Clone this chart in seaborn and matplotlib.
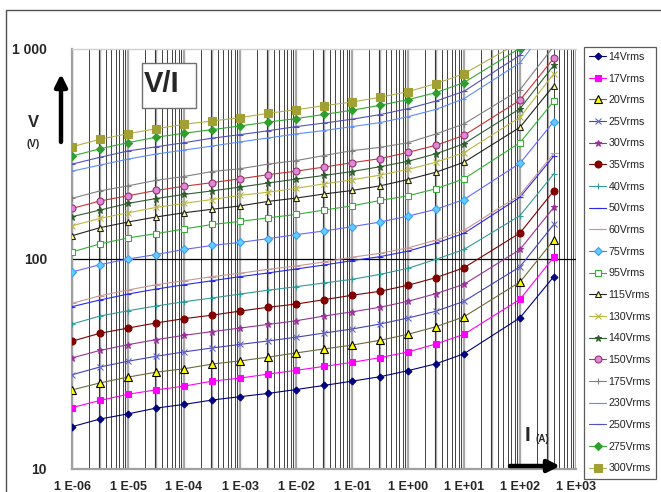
import numpy as np
import pandas as pd
import matplotlib
matplotlib.use('Agg')
import matplotlib.pyplot as plt
import seaborn as sns
from matplotlib.patches import Rectangle
from matplotlib.ticker import LogLocator, NullLocator, NullFormatter

# current values (A) where the curves have points
current = [1e-6, 3.16e-6, 1e-5, 3.16e-5, 1e-4, 3.16e-4, 1e-3, 3.16e-3, 1e-2,
           3.16e-2, 1e-1, 3.16e-1, 1, 3.16, 10, 100, 400]

# voltage (V) per varistor rating
v14 = [15.9, 17.3, 18.3, 19.5, 20.3, 21.3, 22.1, 22.9, 23.9, 25.0, 26.2, 27.5, 29.4, 31.7, 35.4, 52.5, 82.4]
v17 = [19.6, 21.2, 22.7, 23.8, 24.8, 26.2, 27.1, 28.3, 29.5, 30.8, 32.2, 33.9, 36.1, 39.4, 43.8, 64.3, 102]
v20 = [23.8, 25.7, 27.4, 28.9, 30.0, 31.6, 32.7, 34.1, 35.7, 37.3, 38.9, 41.0, 43.8, 47.6, 53.1, 77.7, 123]
v25 = [28.1, 30.6, 32.6, 34.4, 36.1, 37.7, 39.2, 40.7, 42.4, 44.4, 46.4, 49.0, 52.4, 56.4, 62.9, 91.9, 146]
v30 = [33.8, 36.7, 39.1, 41.3, 43.3, 45.1, 46.9, 48.8, 50.8, 53.5, 56.0, 58.9, 62.9, 68.4, 75.8, 111, 176]
v35 = [40.6, 44.3, 46.9, 49.6, 52.0, 54.0, 56.5, 58.9, 61.0, 64.0, 67.2, 70.2, 75.0, 81.5, 90.9, 133, 211]
v40 = [49.0, 53.5, 56.7, 59.7, 62.6, 65.2, 68.1, 71.0, 73.8, 76.9, 80.0, 84.5, 90.3, 99.7, 111, 161, 254]
v50 = [59.3, 63.8, 68.1, 71.9, 75.4, 78.8, 82.4, 85.8, 89.6, 93.6, 98.2, 102.6, 109, 119, 132.5, 197, 309]
v60 = [61.5, 66.8, 71.2, 75.4, 78.8, 82.4, 85.5, 89.3, 92.6, 96.8, 102, 106.4, 113, 123, 137, 202, 318]
v75 = [86.7, 94, 100, 105, 111, 116, 120, 125, 130.6, 136, 142.5, 150, 160, 172.5, 192, 286, 451]
v95 = [108, 118, 126, 132, 139, 146, 151, 157, 163, 171, 179, 190, 200, 216, 241, 358, 564]
v115 = [129, 141, 150, 158.5, 166, 172.5, 179, 188, 195, 204, 212, 223, 239, 259, 289, 424, 670]
v130 = [144, 156, 166, 176, 184, 192, 201, 208, 217, 228, 238, 251, 267, 289, 321, 473, 762]
v140 = [159, 171, 184, 194, 203, 211, 220, 230, 240, 250, 261, 275, 292, 317, 354, 520, 835]
v150 = [174, 189, 200, 212, 222, 231, 241, 252, 262, 274, 287.5, 300.5, 322, 348, 388, 571, 903]
v175 = [194.5, 211, 223, 237, 247, 261, 269, 283, 294, 311, 328, 340, 358, 394, 440, 640, 1030]
v230 = [262, 280, 299, 316, 330, 345, 361, 377, 394, 409, 427, 446, 476, 516, 580, 860, 1400]
v250 = [283, 305, 327, 342, 358, 376, 391, 408, 427, 444, 463, 487, 520, 565, 629, 935, 1500]
v275 = [309, 335, 358, 380, 397, 413, 430, 449, 466, 488, 511, 539, 574, 620, 692, 1010, 1600]
v300 = [342.5, 371.5, 395, 417, 438, 454, 471, 494, 514, 537, 559, 589, 626, 684, 763, 1080, 1700]

series_names = ['14Vrms', '17Vrms', '20Vrms', '25Vrms', '30Vrms', '35Vrms', '40Vrms',
                '50Vrms', '60Vrms', '75Vrms', '95Vrms', '115Vrms', '130Vrms', '140Vrms',
                '150Vrms', '175Vrms', '230Vrms', '250Vrms', '275Vrms', '300Vrms']
series_values = [v14, v17, v20, v25, v30, v35, v40, v50, v60, v75, v95, v115,
                 v130, v140, v150, v175, v230, v250, v275, v300]

x_tick_values = [1e-6, 1e-5, 1e-4, 1e-3, 1e-2, 1e-1, 1e0, 1e1, 1e2, 1e3]
x_tick_labels = ['1 E-06', '1 E-05', '1 E-04', '1 E-03', '1 E-02', '1 E-01',
                 '1 E+00', '1 E+01', '1 E+02', '1 E+03']
y_tick_values = [10, 100, 1000]
y_tick_labels = ['10', '100', '1 000']

# line colour, marker, size, face, edge
styles = {
    '14Vrms': ('#000080', 'D', 3.5, '#000080', '#000080'),
    '17Vrms': ('#FF00FF', 's', 5.0, '#FF00FF', '#FF00FF'),
    '20Vrms': ('#6B6B3A', '^', 5.5, '#FFFF00', '#000000'),
    '25Vrms': ('#4444BB', 'x', 4.0, '#6666CC', '#6666CC'),
    '30Vrms': ('#993399', '*', 5.0, '#993399', '#993399'),
    '35Vrms': ('#800000', 'o', 5.0, '#800000', '#800000'),
    '40Vrms': ('#339999', '+', 5.0, '#339999', '#339999'),
    '50Vrms': ('#2A2AF0', '_', 4.5, '#2A2AF0', '#2A2AF0'),
    '60Vrms': ('#C89696', '_', 5.5, '#C89696', '#C89696'),
    '75Vrms': ('#6666FF', 'D', 4.0, '#66CCFF', '#33A0FF'),
    '95Vrms': ('#33B033', 's', 5.0, '#FFFFFF', '#33B033'),
    '115Vrms': ('#222222', '^', 5.0, '#FFFF99', '#222222'),
    '130Vrms': ('#B8B840', 'x', 4.0, '#B8B840', '#B8B840'),
    '140Vrms': ('#2F5F2F', '*', 5.0, '#2F5F2F', '#2F5F2F'),
    '150Vrms': ('#CC3333', 'o', 5.0, '#DD88DD', '#993366'),
    '175Vrms': ('#808080', '+', 5.0, '#808080', '#808080'),
    '230Vrms': ('#5C8CFF', '_', 3.0, '#5C8CFF', '#5C8CFF'),
    '250Vrms': ('#5050C0', '_', 5.0, '#5050C0', '#5050C0'),
    '275Vrms': ('#33AA33', 'D', 4.0, '#2E9E2E', '#2E9E2E'),
    '300Vrms': ('#B0B050', 's', 5.5, '#A0A035', '#A0A035'),
}

rows = []
for name, vals in zip(series_names, series_values):
    for c, v in zip(current, vals):
        rows.append({'current': c, 'voltage': v, 'series': name})
df = pd.DataFrame(rows)

sns.set_style('white')
plt.rcParams['font.family'] = ['Liberation Sans', 'DejaVu Sans']

fig = plt.figure(figsize=(6.61, 4.92), dpi=100)
ax = fig.add_axes([72 / 661, 1 - 469 / 492, (576 - 72) / 661, (469 - 49) / 492])
ax.set_xscale('log')
ax.set_yscale('log')
ax.set_xlim(1e-6, 1e3)
ax.set_ylim(10, 1000)

# grid: thin black minor lines, thick grey half-decade lines
ax.xaxis.set_minor_locator(LogLocator(base=10, subs=np.arange(2, 10)))
ax.xaxis.set_minor_formatter(NullFormatter())
ax.grid(which='minor', axis='x', color='#222222', lw=0.6, zorder=0)
for e in np.arange(-6, 3.01, 0.5):
    ax.axvline(10 ** e, color='#A8A8A8', lw=1.7, zorder=0.5)
ax.axhline(100, color='black', lw=0.9, zorder=1)

for name in series_names:
    col, mk, ms, mfc, mec = styles[name]
    sns.lineplot(data=df[df['series'] == name], x='current', y='voltage', ax=ax,
                 color=col, lw=0.8, marker=mk, markersize=ms,
                 markerfacecolor=mfc, markeredgecolor=mec, markeredgewidth=0.8,
                 errorbar=None, label=name, zorder=3)

ax.set_xlabel('')
ax.set_ylabel('')
ax.set_xticks(x_tick_values)
ax.set_xticklabels(x_tick_labels, fontsize=9, fontweight='bold')
ax.set_yticks(y_tick_values)
ax.set_yticklabels(y_tick_labels, fontsize=10, fontweight='bold')
ax.yaxis.set_minor_locator(NullLocator())
ax.tick_params(axis='x', which='both', length=0, pad=8.5)
ax.tick_params(axis='y', which='major', length=6, width=0.9, color='black', pad=12)

for side in ['left', 'bottom']:
    ax.spines[side].set_color('#A0A0A0')
    ax.spines[side].set_linewidth(1.6)
ax.spines['top'].set_color('#D0D0D0')
ax.spines['top'].set_linewidth(1.0)
ax.spines['right'].set_visible(False)

handles, labels = ax.get_legend_handles_labels()
leg = ax.legend(handles, labels, loc='upper left',
                bbox_to_anchor=(584 / 661, 1 - 46.5 / 492), bbox_transform=fig.transFigure,
                frameon=True, fancybox=False, edgecolor='#333333', fontsize=7.7,
                labelspacing=1.09, handlelength=1.55, handletextpad=0.25,
                borderpad=0.5, borderaxespad=0)
leg.get_frame().set_linewidth(0.9)
for t in leg.get_texts():
    t.set_color('#222222')

# chart area frame
fig.patches.append(Rectangle((6, -20), 800, 492 - 10 + 20, transform=None,
                             fill=False, edgecolor='#505050', lw=1.0))

# V/I box
fig.patches.append(Rectangle((142, 492 - 108), 54, 45, transform=None,
                             fill=True, facecolor='white', edgecolor='#707070', lw=1.0, zorder=5))
fig.text(161.5 / 661, 1 - 84 / 492, 'V/I', fontsize=21, fontweight='bold',
         ha='center', va='center', zorder=6)

# axis names and arrows
fig.text(33 / 661, 1 - 122.5 / 492, 'V', fontsize=12, fontweight='bold', ha='center', va='center')
fig.text(33 / 661, 1 - 144 / 492, '(V)', fontsize=7, fontweight='bold', ha='center', va='center')
fig.text(527 / 661, 1 - 435.5 / 492, 'I', fontsize=15, fontweight='bold', ha='center', va='center')
fig.text(542 / 661, 1 - 439 / 492, '(A)', fontsize=7, fontweight='bold', ha='center', va='center')

ax.annotate('', xy=(61, 492 - 74), xytext=(61, 492 - 142), xycoords='figure pixels',
            textcoords='figure pixels',
            arrowprops=dict(arrowstyle='-|>', lw=3.2, mutation_scale=18, color='black',
                            shrinkA=0, shrinkB=0))
ax.annotate('', xy=(560, 492 - 466), xytext=(510, 492 - 466), xycoords='figure pixels',
            textcoords='figure pixels',
            arrowprops=dict(arrowstyle='-|>', lw=3.2, mutation_scale=18, color='black',
                            shrinkA=0, shrinkB=0))

fig.savefig('out.png', dpi=100)
